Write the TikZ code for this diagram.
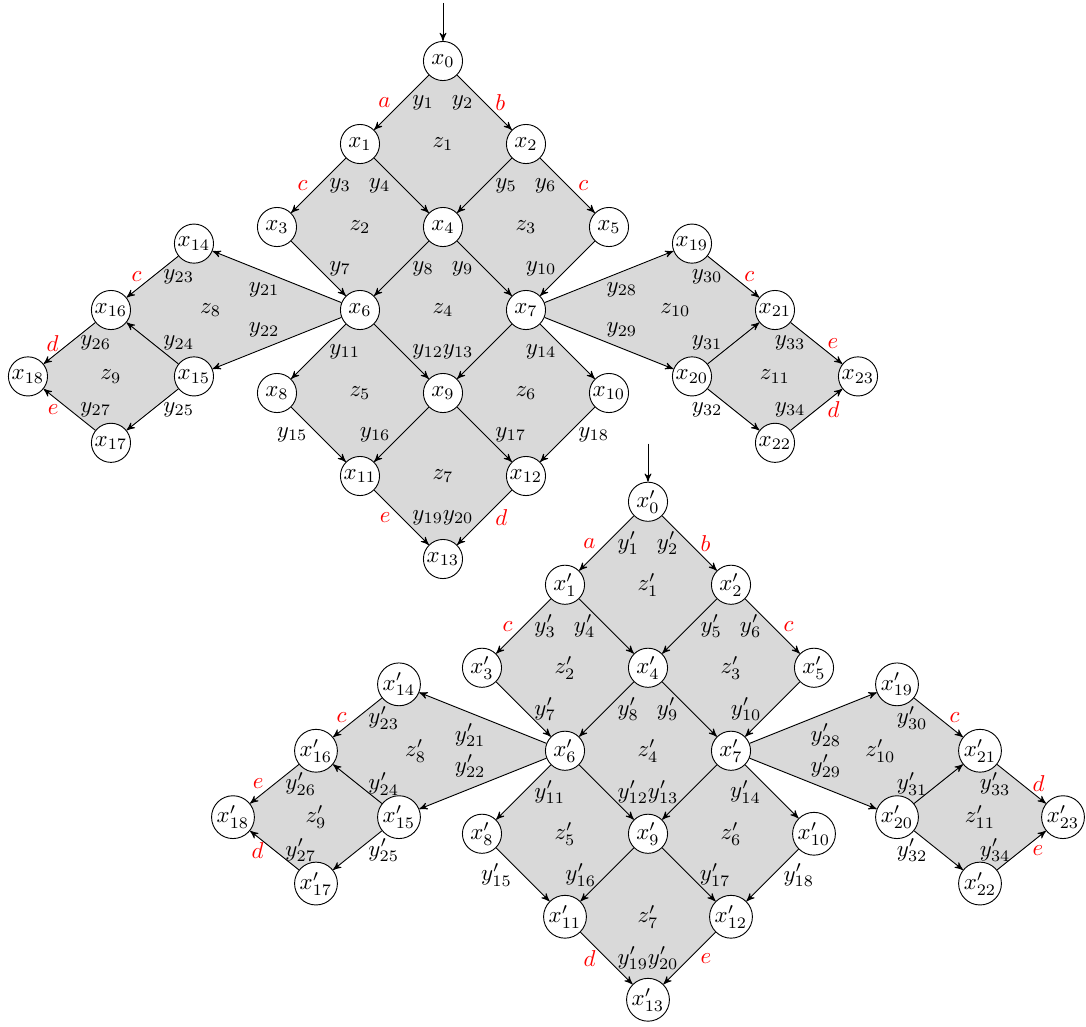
\documentclass[tikz,border=0pt]{standalone}
\usepackage{amsmath}
\usepackage{amssymb}
\usetikzlibrary{arrows,positioning,backgrounds}

\tikzset{
  vtx/.style={circle,draw,fill=white,inner sep=0.5pt,minimum size=0.6cm},
  arr/.style={->,>=stealth',every node/.style={inner sep=4.6pt}},
  lbl/.style={red},
  cell/.style={fill=gray!30},
}

% one copy of the graph: #1 = mark on the names, #2 and #3 = the labels of the lower edges
\newcommand{\lattice}[3]{%
  \node[vtx] (x0) at (0,0) {$x#1_{0}$};
  \node[vtx,below left of=x0] (x1) {$x#1_{1}$};
  \node[vtx,below right of=x0] (x2) {$x#1_{2}$};
  \node[vtx,below left of=x1] (x3) {$x#1_{3}$};
  \node[vtx,below right of=x1] (x4) {$x#1_{4}$};
  \node[vtx,below right of=x2] (x5) {$x#1_{5}$};
  \node[vtx,below left of=x4] (x6) {$x#1_{6}$};
  \node[vtx,below right of=x4] (x7) {$x#1_{7}$};
  \node[vtx,below left of=x6] (x8) {$x#1_{8}$};
  \node[vtx,below right of=x6] (x9) {$x#1_{9}$};
  \node[vtx,below right of=x7] (x10) {$x#1_{10}$};
  \node[vtx,below left of=x9] (x11) {$x#1_{11}$};
  \node[vtx,below right of=x9] (x12) {$x#1_{12}$};
  \node[vtx,below right of=x11] (x13) {$x#1_{13}$};
  % left wing
  \node[vtx] (x14) at (-3,-2.2) {$x#1_{14}$};
  \node[vtx] (x16) at (-4,-3) {$x#1_{16}$};
  \node[vtx] (x15) at (-3,-3.8) {$x#1_{15}$};
  \node[vtx] (x18) at (-5,-3.8) {$x#1_{18}$};
  \node[vtx] (x17) at (-4,-4.6) {$x#1_{17}$};
  % right wing
  \node[vtx] (x19) at (3,-2.2) {$x#1_{19}$};
  \node[vtx] (x21) at (4,-3) {$x#1_{21}$};
  \node[vtx] (x20) at (3,-3.8) {$x#1_{20}$};
  \node[vtx] (x23) at (5,-3.8) {$x#1_{23}$};
  \node[vtx] (x22) at (4,-4.6) {$x#1_{22}$};
  \coordinate (in) at (0,0.7);
  \begin{scope}[on background layer]
    \fill[cell] (x0.center) -- (x2.center) -- (x5.center) -- (x7.center) -- (x10.center) -- (x12.center)
      -- (x13.center) -- (x11.center) -- (x8.center) -- (x6.center) -- (x3.center) -- (x1.center) -- cycle;
    \fill[cell] (x6.center) -- (x14.center) -- (x16.center) -- (x18.center) -- (x17.center) -- (x15.center) -- cycle;
    \fill[cell] (x7.center) -- (x19.center) -- (x21.center) -- (x23.center) -- (x22.center) -- (x20.center) -- cycle;
  \end{scope}
  \node (z1) at (0,-1) {$z#1_{1}$};
  \node (z2) at (-1,-2) {$z#1_{2}$};
  \node (z3) at (1,-2) {$z#1_{3}$};
  \node (z4) at (0,-3) {$z#1_{4}$};
  \node (z5) at (-1,-4) {$z#1_{5}$};
  \node (z6) at (1,-4) {$z#1_{6}$};
  \node (z7) at (0,-5) {$z#1_{7}$};
  \node (z8) at (-2.8,-3) {$z#1_{8}$};
  \node (z9) at (-4,-3.8) {$z#1_{9}$};
  \node (z10) at (2.8,-3) {$z#1_{10}$};
  \node (z11) at (4,-3.8) {$z#1_{11}$};
  \draw[arr] (in) -- (x0);
  \draw[arr] (x0) -- node[left,lbl] {$a$} node[right] {$y#1_{1}$} (x1);
  \draw[arr] (x0) -- node[left] {$y#1_{2}$} node[right,lbl] {$b$} (x2);
  \draw[arr] (x1) -- node[left,lbl] {$c$} node[right] {$y#1_{3}$} (x3);
  \draw[arr] (x1) -- node[left] {$y#1_{4}$} (x4);
  \draw[arr] (x2) -- node[right] {$y#1_{5}$} (x4);
  \draw[arr] (x2) -- node[left] {$y#1_{6}$} node[right,lbl] {$c$} (x5);
  \draw[arr] (x3) -- node[right] {$y#1_{7}$} (x6);
  \draw[arr] (x4) -- node[right] {$y#1_{8}$} (x6);
  \draw[arr] (x4) -- node[left] {$y#1_{9}$} (x7);
  \draw[arr] (x5) -- node[left] {$y#1_{10}$} (x7);
  \draw[arr] (x6) -- node[right] {$y#1_{11}$} (x8);
  \draw[arr] (x6) -- node[right] {$y#1_{12}$} (x9);
  \draw[arr] (x7) -- node[left] {$y#1_{13}$} (x9);
  \draw[arr] (x7) -- node[left] {$y#1_{14}$} (x10);
  \draw[arr] (x8) -- node[left] {$y#1_{15}$} (x11);
  \draw[arr] (x9) -- node[left] {$y#1_{16}$} (x11);
  \draw[arr] (x9) -- node[right] {$y#1_{17}$} (x12);
  \draw[arr] (x10) -- node[right] {$y#1_{18}$} (x12);
  \draw[arr] (x11) -- node[left,lbl] {$#3$} node[right] {$y#1_{19}$} (x13);
  \draw[arr] (x12) -- node[left] {$y#1_{20}$} node[right,lbl] {$#2$} (x13);
  \draw[arr] (x6) -- node[below,pos=0.6] {$y#1_{21}$} (x14);
  \draw[arr] (x6) -- node[above,pos=0.6] {$y#1_{22}$} (x15);
  \draw[arr] (x14) -- node[left,lbl] {$c$} node[right] {$y#1_{23}$} (x16);
  \draw[arr] (x15) -- node[right] {$y#1_{24}$} (x16);
  \draw[arr] (x15) -- node[right] {$y#1_{25}$} (x17);
  \draw[arr] (x16) -- node[left,lbl] {$#2$} node[right] {$y#1_{26}$} (x18);
  \draw[arr] (x17) -- node[left,lbl] {$#3$} node[right] {$y#1_{27}$} (x18);
  \draw[arr] (x7) -- node[below,pos=0.6] {$y#1_{28}$} (x19);
  \draw[arr] (x7) -- node[above,pos=0.6] {$y#1_{29}$} (x20);
  \draw[arr] (x19) -- node[left] {$y#1_{30}$} node[right,lbl] {$c$} (x21);
  \draw[arr] (x20) -- node[left] {$y#1_{31}$} (x21);
  \draw[arr] (x20) -- node[left] {$y#1_{32}$} (x22);
  \draw[arr] (x21) -- node[left] {$y#1_{33}$} node[right,lbl] {$#3$} (x23);
  \draw[arr] (x22) -- node[left] {$y#1_{34}$} node[right,lbl] {$#2$} (x23);
}

\begin{document}
\begin{tikzpicture}[x=1.2728cm,y=1.2728cm,node distance=1.8cm]
\useasboundingbox (-5.337,0.735) rectangle (7.747,-11.627);
\begin{scope}[name prefix=top-]
  \lattice{}{d}{e}
\end{scope}
\begin{scope}[shift={(2.47,-5.31)},name prefix=bot-]
  \lattice{'}{e}{d}
\end{scope}
\end{tikzpicture}
\end{document}
